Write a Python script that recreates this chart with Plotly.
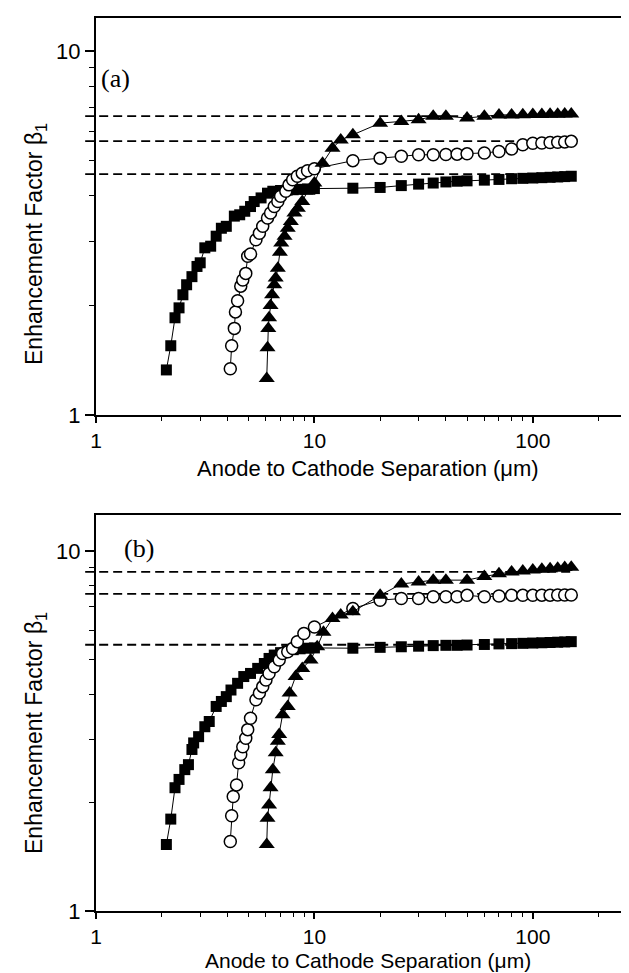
import math
import plotly.graph_objects as go

# ---------------- data ----------------
# panel (a)
sq_a_x = [2.1, 2.2, 2.3, 2.4, 2.5, 2.6, 2.75, 2.9, 3.0, 3.15, 3.35, 3.55, 3.75, 3.95, 4.3, 4.55,
          4.8, 5.1, 5.3, 5.7, 6.1, 6.45, 7.0, 7.5, 8.0, 8.6, 9.3, 10,
          15, 20, 25, 30, 35, 40, 45, 50, 60, 70, 80, 90, 100, 110, 120, 130, 140, 150]
sq_a_y = [1.33, 1.55, 1.85, 1.97, 2.14, 2.28, 2.40, 2.56, 2.62, 2.88, 2.91, 3.10, 3.26, 3.30, 3.52, 3.55,
          3.63, 3.74, 3.86, 3.95, 4.07, 4.12, 4.14, 4.15, 4.16, 4.17, 4.18, 4.19,
          4.20, 4.22, 4.27, 4.31, 4.34, 4.37, 4.39, 4.40, 4.42, 4.44, 4.46, 4.47, 4.48, 4.49, 4.50, 4.51, 4.52, 4.53]

ci_a_x = [4.12, 4.18, 4.3, 4.35, 4.45, 4.6, 4.7, 4.85, 4.95, 5.1, 5.4, 5.6, 5.8, 6.1, 6.3, 6.55,
          6.8, 7.0, 7.4, 7.65, 7.95, 8.35, 8.8, 9.3, 10,
          15, 20, 25, 30, 35, 40, 45, 50, 60, 70, 80, 90, 100, 110, 120, 130, 140, 150]
ci_a_y = [1.34, 1.55, 1.73, 1.92, 2.06, 2.26, 2.35, 2.45, 2.73, 2.77, 3.03, 3.16, 3.30, 3.48, 3.59, 3.74,
          3.86, 3.99, 4.12, 4.29, 4.43, 4.53, 4.62, 4.69, 4.75,
          5.00, 5.08, 5.14, 5.19, 5.19, 5.20, 5.21, 5.22, 5.25, 5.30, 5.38, 5.53, 5.58, 5.59, 5.61, 5.62, 5.63, 5.65]

tr_a_x = [6.05, 6.1, 6.15, 6.2, 6.3, 6.4, 6.55, 6.65, 6.8, 6.95, 7.05, 7.3, 7.55, 7.8, 8.1, 8.4, 8.8,
          9.3, 10, 10.9, 12.1, 13.2,
          15, 20, 25, 30, 35, 40, 50, 60, 70, 80, 90, 100, 110, 120, 130, 140, 150]
tr_a_y = [1.26, 1.53, 1.73, 1.85, 2.00, 2.14, 2.28, 2.38, 2.53, 2.80, 2.97, 3.10, 3.26, 3.40, 3.59, 3.70, 3.86,
          4.12, 4.34, 4.92, 5.41, 5.70,
          5.89, 6.34, 6.41, 6.48, 6.62, 6.62, 6.55, 6.62, 6.68, 6.68, 6.69, 6.70, 6.70, 6.71, 6.71, 6.72, 6.72]

asym_a = [6.63, 5.66, 4.59]

# panel (b)
sq_b_x = [2.1, 2.2, 2.3, 2.4, 2.55, 2.65, 2.75, 2.8, 2.95, 3.15, 3.3, 3.55, 3.75, 3.95, 4.15, 4.45,
          4.75, 5.1, 5.5, 5.9, 6.2, 6.55, 7.0, 7.5, 8.0, 8.6, 9.3, 10,
          15, 20, 25, 30, 35, 40, 45, 50, 60, 70, 80, 90, 100, 110, 120, 130, 140, 150]
sq_b_y = [1.53, 1.80, 2.20, 2.32, 2.47, 2.55, 2.81, 2.93, 3.05, 3.25, 3.36, 3.70, 3.82, 3.94, 4.11, 4.29,
          4.48, 4.57, 4.72, 4.87, 5.03, 5.14, 5.22, 5.28, 5.32, 5.35, 5.37, 5.38,
          5.37, 5.40, 5.42, 5.44, 5.46, 5.47, 5.47, 5.48, 5.50, 5.52, 5.53, 5.54, 5.55, 5.56, 5.57, 5.58, 5.59, 5.60]

ci_b_x = [4.12, 4.18, 4.25, 4.4, 4.5, 4.6, 4.7, 4.85, 4.95, 5.1, 5.4, 5.6, 5.8, 6.0, 6.2, 6.55,
          6.9, 7.15, 7.55, 7.95, 8.35, 8.95, 10,
          15, 20, 25, 30, 35, 40, 45, 50, 60, 70, 80, 90, 100, 110, 120, 130, 140, 150]
ci_b_y = [1.56, 1.84, 2.08, 2.24, 2.58, 2.72, 2.86, 3.02, 3.19, 3.43, 3.86, 4.03, 4.20, 4.38, 4.57, 4.77,
          4.98, 5.19, 5.25, 5.36, 5.60, 5.90, 6.15,
          6.92, 7.30, 7.38, 7.38, 7.46, 7.46, 7.46, 7.53, 7.46, 7.50, 7.53, 7.53, 7.53, 7.54, 7.54, 7.55, 7.55, 7.55]

tr_b_x = [6.05, 6.1, 6.2, 6.3, 6.45, 6.65, 6.8, 6.9, 7.15, 7.55, 7.7, 8.2, 8.8, 9.6, 10.3, 11.0,
          12.1, 13.2, 15, 20, 25, 30, 35, 40, 50, 60, 70, 80, 90, 100, 110, 120, 130, 140, 150]
tr_b_y = [1.53, 1.81, 1.97, 2.20, 2.47, 2.75, 2.96, 3.09, 3.51, 3.70, 4.03, 4.48, 4.72, 4.98, 5.42, 5.95,
          6.49, 6.64, 6.78, 7.53, 8.10, 8.20, 8.30, 8.30, 8.30, 8.50, 8.65, 8.75, 8.80, 8.85, 8.90, 8.93, 8.96, 9.00, 9.02]

asym_b = [8.75, 7.60, 5.49]

x_major_ticks = [1, 10, 100]
x_major_text = ["1", "10", "100"]
x_minor_ticks = [2, 3, 4, 5, 6, 7, 8, 9, 20, 30, 40, 50, 60, 70, 80, 90, 200, 300]
y_major_ticks = [1, 10]
y_major_text = ["1", "10"]
y_minor_ticks = [2, 3, 4, 5, 6, 7, 8, 9]

panel_labels = ["(a)", "(b)"]
x_title = "Anode to Cathode Separation (\u03bcm)"
y_title = "Enhancement Factor \u03b2<sub>1</sub>"

X_MAX = 300
# ---------------- figure ----------------
W, H = 629, 973
ML, MR, MT, MB = 88, 0, 10, 70
SANS = "Liberation Sans, Arial, sans-serif"
SERIF = "Liberation Serif, Times New Roman, serif"

fig = go.Figure()

def add_series(xs, ys, sym, fill, size, xa, ya, lw=0):
    fig.add_trace(go.Scatter(
        x=xs, y=ys, mode="lines+markers", xaxis=xa, yaxis=ya,
        line=dict(color="black", width=1),
        marker=dict(symbol=sym, size=size, color=fill,
                    line=dict(color="black", width=lw)),
        showlegend=False, cliponaxis=False))

for (sx, sy, cx, cy, tx, ty, xa, ya) in [
        (sq_a_x, sq_a_y, ci_a_x, ci_a_y, tr_a_x, tr_a_y, "x", "y"),
        (sq_b_x, sq_b_y, ci_b_x, ci_b_y, tr_b_x, tr_b_y, "x2", "y2")]:
    add_series(sx, sy, "square", "black", 11, xa, ya)
    add_series(cx, cy, "circle", "white", 12, xa, ya, lw=1.5)
    add_series(tx, ty, "triangle-up", "black", 14, xa, ya)

xr = [0, math.log10(X_MAX)]
x_end = max(max(sq_a_x), max(ci_a_x), max(tr_a_x))
x1_paper = (math.log10(x_end) - xr[0]) / (xr[1] - xr[0])

shapes = []
for vals, yref in [(asym_a, "y"), (asym_b, "y2")]:
    for v in vals:
        shapes.append(dict(type="line", xref="paper", yref=yref,
                           x0=-0.02, x1=x1_paper, y0=v, y1=v, layer="below",
                           line=dict(color="black", width=1.8, dash="9px,5px")))

def xaxis_cfg(anchor):
    return dict(type="log", range=xr, domain=[0, 1], anchor=anchor,
                showline=True, linecolor="black", linewidth=2, mirror=True,
                ticks="outside", ticklen=6, tickwidth=1.5, tickcolor="black",
                tickmode="array", tickvals=x_major_ticks, ticktext=x_major_text,
                minor=dict(tickmode="array", tickvals=x_minor_ticks, ticks="outside",
                           ticklen=4, tickwidth=1.2, tickcolor="black", showgrid=False),
                showgrid=False, zeroline=False,
                tickfont=dict(family=SANS, size=21, color="black"))

def yaxis_cfg(anchor, dom, top):
    return dict(type="log", range=[0, top], domain=dom, anchor=anchor,
                showline=True, linecolor="black", linewidth=2, mirror=False,
                ticks="outside", ticklen=9, tickwidth=1.5, tickcolor="black",
                tickmode="array", tickvals=y_major_ticks, ticktext=y_major_text,
                minor=dict(tickmode="array", tickvals=y_minor_ticks, ticks="outside",
                           ticklen=5, tickwidth=1.2, tickcolor="black", showgrid=False),
                showgrid=False, zeroline=False,
                tickfont=dict(family=SANS, size=22, color="black"))

PH = H - MT - MB
def py(ypx):
    return (H - MB - ypx) / PH
def px(xpx):
    return (xpx - ML) / (W - ML - MR)

dom_a = [py(407), 1.0]
dom_b = [0.0, py(507)]

annotations = [
    dict(text=panel_labels[0], xref="paper", yref="paper", x=px(91), y=py(70),
         xanchor="left", yanchor="middle", showarrow=False,
         font=dict(family=SERIF, size=26, color="black")),
    dict(text=panel_labels[1], xref="paper", yref="paper", x=px(114), y=py(540),
         xanchor="left", yanchor="middle", showarrow=False,
         font=dict(family=SERIF, size=26, color="black")),
    dict(text=x_title, xref="paper", yref="paper", x=px(360), y=py(461),
         xanchor="center", yanchor="middle", showarrow=False,
         font=dict(family=SANS, size=22, color="black")),
    dict(text=x_title, xref="paper", yref="paper", x=px(360), y=py(952),
         xanchor="center", yanchor="middle", showarrow=False,
         font=dict(family=SANS, size=21, color="black")),
    dict(text=y_title, xref="paper", yref="paper", x=px(27), y=py(236),
         xanchor="center", yanchor="middle", showarrow=False, textangle=-90,
         font=dict(family=SANS, size=23, color="black")),
    dict(text=y_title, xref="paper", yref="paper", x=px(27), y=py(725),
         xanchor="center", yanchor="middle", showarrow=False, textangle=-90,
         font=dict(family=SANS, size=23, color="black")),
]

fig.update_layout(
    width=W, height=H,
    margin=dict(l=ML, r=MR, t=MT, b=MB),
    paper_bgcolor="white", plot_bgcolor="rgba(0,0,0,0)",
    xaxis=xaxis_cfg("y"), yaxis=yaxis_cfg("x", dom_a, 1.091),
    xaxis2=xaxis_cfg("y2"), yaxis2=yaxis_cfg("x2", dom_b, 1.10),
    shapes=shapes, annotations=annotations, showlegend=False,
)

fig.write_html("out.html")
